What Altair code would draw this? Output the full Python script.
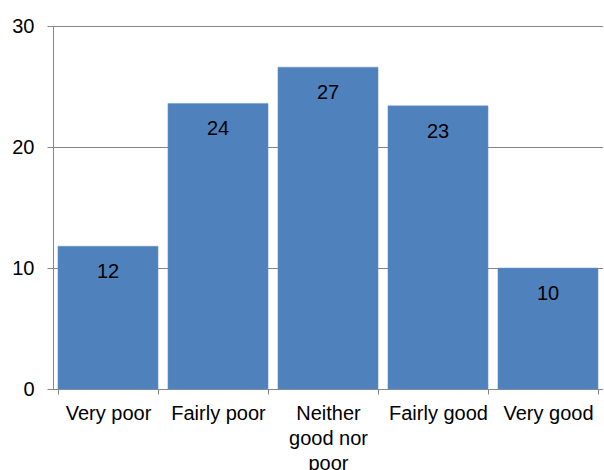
import altair as alt
import pandas as pd

# Survey responses (percent) by rating category
categories = ["Very poor", "Fairly poor", "Neither good nor poor", "Fairly good", "Very good"]
values = [11.8, 23.6, 26.6, 23.4, 10.0]

df = pd.DataFrame({"category": categories, "value": values})

FONT = "Liberation Sans"
GRID = "#868686"
SIZE = 20

x_enc = alt.X(
    "category:N",
    sort=categories,
    title=None,
    scale=alt.Scale(paddingInner=0.09, paddingOuter=0.045),
    axis=alt.Axis(
        labelAngle=0,
        labelFont=FONT,
        labelFontSize=SIZE,
        labelColor="black",
        labelPadding=9,
        labelLineHeight=25,
        labelExpr="datum.value == 'Neither good nor poor' ? ['Neither', 'good nor', 'poor'] : datum.value",
        tickBand="extent",
        tickSize=5,
        tickColor=GRID,
        domainColor=GRID,
        grid=False,
    ),
)

y_enc = alt.Y(
    "value:Q",
    title=None,
    scale=alt.Scale(domain=[0, 30], nice=False),
    axis=alt.Axis(
        values=[0, 10, 20, 30],
        labelFont=FONT,
        labelFontSize=SIZE,
        labelColor="black",
        labelPadding=13,
        tickSize=6,
        tickColor=GRID,
        domainColor=GRID,
        gridColor=GRID,
        gridWidth=1,
    ),
)

bars = alt.Chart(df).mark_bar(color="#4F81BD", stroke="#6b96c9", strokeWidth=0.5).encode(
    x=x_enc, y=y_enc
)

labels = alt.Chart(df).mark_text(
    font=FONT, fontSize=SIZE, color="black", baseline="middle", dy=26
).encode(
    x=alt.X("category:N", sort=categories),
    y="value:Q",
    text=alt.Text("value:Q", format=".0f"),
)

chart = (
    alt.layer(bars, labels)
    .properties(
        width=550,
        height=363,
        autosize=alt.AutoSizeParams(type="none"),
        padding={"left": 53, "top": 26, "right": 0, "bottom": 81},
    )
    .configure_view(stroke=None)
    .configure(background="white")
)

chart.save("out.html", embed_options={"renderer": "svg", "actions": False})
